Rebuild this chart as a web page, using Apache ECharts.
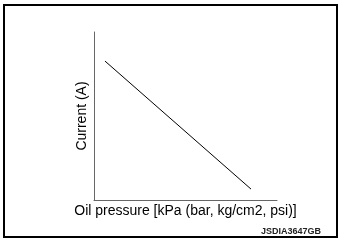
<!DOCTYPE html>
<html><head><meta charset="utf-8">
<script src="https://cdn.jsdelivr.net/npm/echarts@6/dist/echarts.min.js"></script>
<style>html,body{margin:0;padding:0;background:#fff}#c{width:341px;height:240px}</style>
</head><body><div id="c"></div>
<script>
var xName = 'Oil pressure [kPa (bar, kg/cm2, psi)]';
var yName = 'Current (A)';
var codeLabel = 'JSDIA3647GB';
var pressure = [6, 85.8];
var current = [82.7, 6.5];

var chart = echarts.init(document.getElementById('c'), null, {renderer: 'canvas'});
chart.setOption({
  animation: false,
  backgroundColor: '#fff',
  grid: {left: 94, top: 32, right: 64, bottom: 40},
  xAxis: {
    type: 'value', min: 0, max: 100,
    name: xName, nameLocation: 'middle', nameGap: 4,
    nameTextStyle: {fontFamily: 'Liberation Sans', fontSize: 14, color: '#000', verticalAlign: 'top'},
    axisLine: {show: true, lineStyle: {color: '#666', width: 1}},
    axisTick: {show: false}, axisLabel: {show: false}, splitLine: {show: false}
  },
  yAxis: {
    type: 'value', min: 0, max: 100,
    name: yName, nameLocation: 'middle', nameGap: 5, nameRotate: 90,
    nameTextStyle: {fontFamily: 'Liberation Sans', fontSize: 14, color: '#000', verticalAlign: 'bottom'},
    axisLine: {show: true, lineStyle: {color: '#666', width: 1}},
    axisTick: {show: false}, axisLabel: {show: false}, splitLine: {show: false}
  },
  series: [{
    type: 'line',
    data: pressure.map(function (p, i) { return [p, current[i]]; }),
    symbol: 'none',
    lineStyle: {color: '#000', width: 1}
  }],
  graphic: [
    {type: 'rect', shape: {x: 4, y: 5, width: 333, height: 232}, style: {fill: 'none', stroke: '#000', lineWidth: 2}},
    {type: 'text', x: 321, y: 232, style: {text: codeLabel, font: 'bold 9px "Liberation Sans"', fill: '#222', align: 'right', verticalAlign: 'middle'}}
  ]
});
</script></body></html>
